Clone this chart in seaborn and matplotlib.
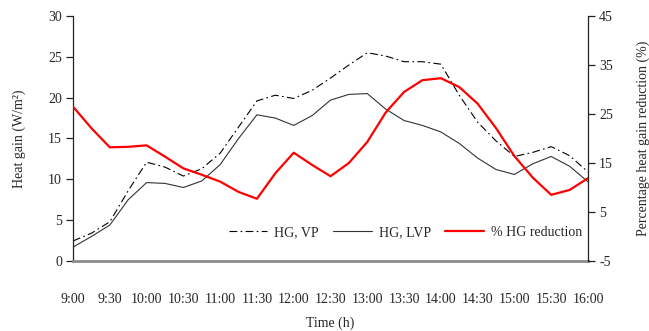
import numpy as np
import pandas as pd
import seaborn as sns
import matplotlib.pyplot as plt

# sample times (every 15 min) and tick labels
times = ["9:00", "9:15", "9:30", "9:45", "10:00", "10:15", "10:30", "10:45",
         "11:00", "11:15", "11:30", "11:45", "12:00", "12:15", "12:30", "12:45",
         "13:00", "13:15", "13:30", "13:45", "14:00", "14:15", "14:30", "14:45",
         "15:00", "15:15", "15:30", "15:45", "16:00"]
tick_labels = ["9:00", "9:30", "10:00", "10:30", "11:00", "11:30", "12:00", "12:30",
               "13:00", "13:30", "14:00", "14:30", "15:00", "15:30", "16:00"]

# heat gain, W/m2
hg_vp = [2.45, 3.4, 4.8, 8.6, 12.1, 11.5, 10.4, 11.3, 13.2, 16.4, 19.6, 20.3, 19.9, 20.9,
         22.4, 24.0, 25.5, 25.1, 24.4, 24.4, 24.1, 20.3, 17.0, 14.7, 12.8, 13.3, 14.0, 12.9, 10.9]
hg_lvp = [1.7, 3.0, 4.4, 7.5, 9.6, 9.5, 9.0, 9.8, 11.8, 15.0, 17.9, 17.5, 16.6, 17.8,
          19.7, 20.4, 20.5, 18.6, 17.2, 16.6, 15.8, 14.4, 12.6, 11.2, 10.6, 11.9, 12.8, 11.6, 9.7]
# heat gain reduction, %
hg_red = [26.5, 22.1, 18.2, 18.3, 18.6, 16.3, 13.9, 12.6, 11.2, 9.1, 7.7, 12.9, 17.1, 14.6,
          12.3, 15.0, 19.3, 25.3, 29.5, 31.9, 32.3, 30.5, 27.1, 22.1, 16.4, 12.0, 8.5, 9.5, 11.9]


def to_hours(t):
    h, m = t.split(":")
    return int(h) + int(m) / 60


df = pd.DataFrame({
    "hour": [to_hours(t) for t in times],
    "vp": hg_vp,
    "lvp": hg_lvp,
    "red": hg_red,
})

sns.set_style("white")
plt.rcParams["font.family"] = ["Liberation Serif", "DejaVu Serif"]
plt.rcParams["font.size"] = 10
plt.rcParams["axes.unicode_minus"] = False

fig = plt.figure(figsize=(6.49, 3.31), dpi=100)
ax = fig.add_axes([0.1125, 0.2115, 0.7935, 0.7402])
ax2 = ax.twinx()

sns.lineplot(data=df, x="hour", y="vp", ax=ax, color="black", lw=0.8,
             linestyle=(0, (7, 3, 1.5, 3)), label="HG, VP", legend=False)
sns.lineplot(data=df, x="hour", y="lvp", ax=ax, color="#333333", lw=0.8,
             label="HG, LVP", legend=False)
sns.lineplot(data=df, x="hour", y="red", ax=ax2, color="#ff0000", lw=1.6,
             label="% HG reduction", legend=False)

ax.set_xlim(9, 16)
ax.set_ylim(0, 30)
ax2.set_ylim(-5, 45)
ax.set_yticks(range(0, 31, 5))
ax2.set_yticks(range(-5, 46, 10))
ax.set_xticks([to_hours(t) for t in tick_labels])
ax.set_xticklabels(tick_labels)

ax.set_xlabel("Time (h)")
ax.xaxis.set_label_coords(0.5, -0.225)
ax.set_ylabel("Heat gain (W/m²)")
ax.yaxis.set_label_coords(-0.091, 0.5)
ax2.set_ylabel("Percentage heat gain reduction (%)")
ax2.yaxis.set_label_coords(1.095, 0.5)

for a in (ax, ax2):
    a.spines["top"].set_visible(False)
    a.spines["bottom"].set_visible(False)
    a.spines["left"].set_color("#222222")
    a.spines["right"].set_color("#222222")
    a.spines["left"].set_linewidth(0.9)
    a.spines["right"].set_linewidth(0.9)
ax.spines["bottom"].set_visible(True)
ax.spines["bottom"].set_color("#8c8c8c")
ax.spines["bottom"].set_linewidth(2)
ax.spines["right"].set_visible(False)
ax2.spines["left"].set_visible(False)

ax.tick_params(axis="x", direction="out", length=5, width=0.9, color="#222222", pad=18)
ax.tick_params(axis="y", direction="out", length=5, width=0.9, color="#222222", pad=3)
ax2.tick_params(axis="y", direction="out", length=5, width=0.9, color="#222222", pad=3)

h1, l1 = ax.get_legend_handles_labels()
h2, l2 = ax2.get_legend_handles_labels()
ax2.legend(h1 + h2, l1 + l2, ncol=3, frameon=False, loc="center",
           bbox_to_anchor=(0.645, 0.115), handlelength=2.8, columnspacing=1.0,
           handletextpad=0.5, fontsize=10)

fig.savefig("out.png", dpi=100)
